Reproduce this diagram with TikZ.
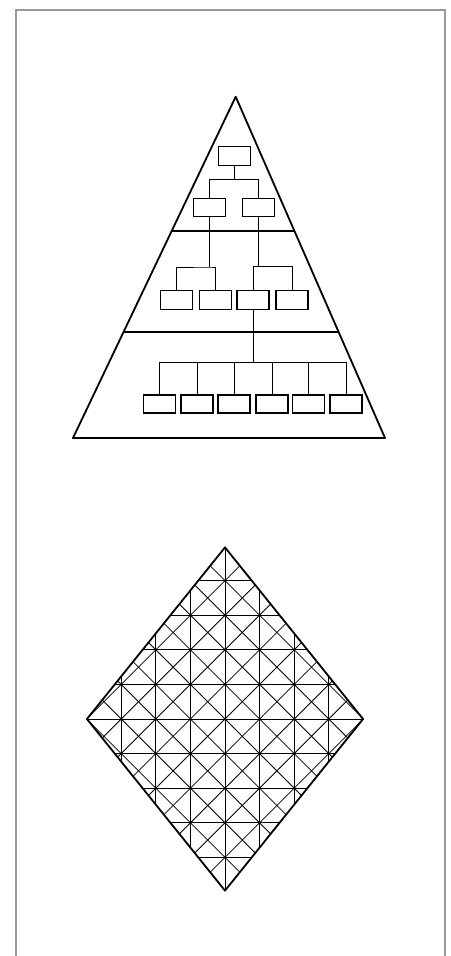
\documentclass[tikz,border=0pt]{standalone}
\usetikzlibrary{calc}

\begin{document}
\begin{tikzpicture}[
    x=1pt, y=-1pt,
    frame/.style={draw=black!40, line width=1.8pt},
    outline/.style={draw, line width=1.8pt, line join=round},
    unit/.style={draw, line width=1.1pt, minimum width=32pt,
                 minimum height=19pt, inner sep=0pt},
    link/.style={draw, line width=0.7pt},
    mesh/.style={draw, line width=0.8pt},
    knot/.style={fill, circle, inner sep=0pt, minimum size=2.6pt}
  ]
  \useasboundingbox (0,0) rectangle (450,956);
  \draw[frame] (16,956) -- (16,10) -- (445,10) -- (445,956);

  % pyramid
  \coordinate (apex) at (235.7,96.7);
  \coordinate (bl) at (73,438);
  \coordinate (br) at (385,438);
  \draw[outline] (apex) -- (br) -- (bl) -- cycle;
  \draw[outline] ($(apex)!0.3926!(bl)$) -- ($(apex)!0.3926!(br)$);
  \draw[outline] ($(apex)!0.6894!(bl)$) -- ($(apex)!0.6894!(br)$);

  \node[unit] (t0) at (234.3,156) {};
  \node[unit, minimum height=18pt] (a1) at (209.7,207.5) {};
  \node[unit, minimum height=18pt] (a2) at (258.8,207.5) {};
  \foreach \x [count=\i] in {176.3,215.5,253,292}
    \node[unit] (b\i) at (\x,300) {};
  \foreach \x [count=\i] in {159.7,197,234,272,308.8,346}
    \node[unit, minimum height=18pt] (c\i) at (\x,404) {};

  \coordinate (j0) at (234.3,179.3);
  \coordinate (j1) at (209.7,267);
  \coordinate (j2) at (258.8,266.5);
  \coordinate (j3) at (253,362.7);
  \draw[link] (t0.south) -- (j0);
  \draw[link] (a1.north) |- (j0) -| (a2.north);
  \draw[link] (a1.south) -- (j1);
  \draw[link] (b1.north) |- (j1) -| (b2.north);
  \draw[link] (a2.south) -- (j2);
  \draw[link] (b3.north) |- (j2) -| (b4.north);
  \draw[link] (b3.south) -- (j3);
  \draw[link] (c1.north) |- (j3) -| (c6.north);
  \foreach \i in {2,...,5}
    \draw[link] (c\i.north) -- (c\i.north |- j3);

  % diamond grid
  \begin{scope}[shift={(225,719)}, x=34.6pt, y=-34.6pt]
    \coordinate (dt) at (0,4.96);
    \coordinate (dr) at (3.99,0);
    \coordinate (db) at (0,-4.96);
    \coordinate (dl) at (-3.99,0);
    \begin{scope}
      \clip (dt) -- (dr) -- (db) -- (dl) -- cycle;
      \foreach \k in {-3,...,3}
        \draw[mesh] (\k,-6) -- (\k,6);
      \foreach \k in {-4,...,4}
        \draw[mesh] (-5,\k) -- (5,\k);
      \foreach \k in {-9,...,9} {
        \draw[mesh] (\k-6,-6) -- (\k+6,6);
        \draw[mesh] (\k+6,-6) -- (\k-6,6);
      }
      \foreach \i in {-3,...,3}
        \foreach \j in {-4,...,4} {
          \pgfmathsetmacro\inside{abs(\i)/3.99+abs(\j)/4.96<0.97}
          \ifdim\inside pt>0.5pt \node[knot] (k\i\j) at (\i,\j) {}; \fi
        }
    \end{scope}
    \draw[outline] (dt) -- (dr) -- (db) -- (dl) -- cycle;
  \end{scope}
\end{tikzpicture}
\end{document}
